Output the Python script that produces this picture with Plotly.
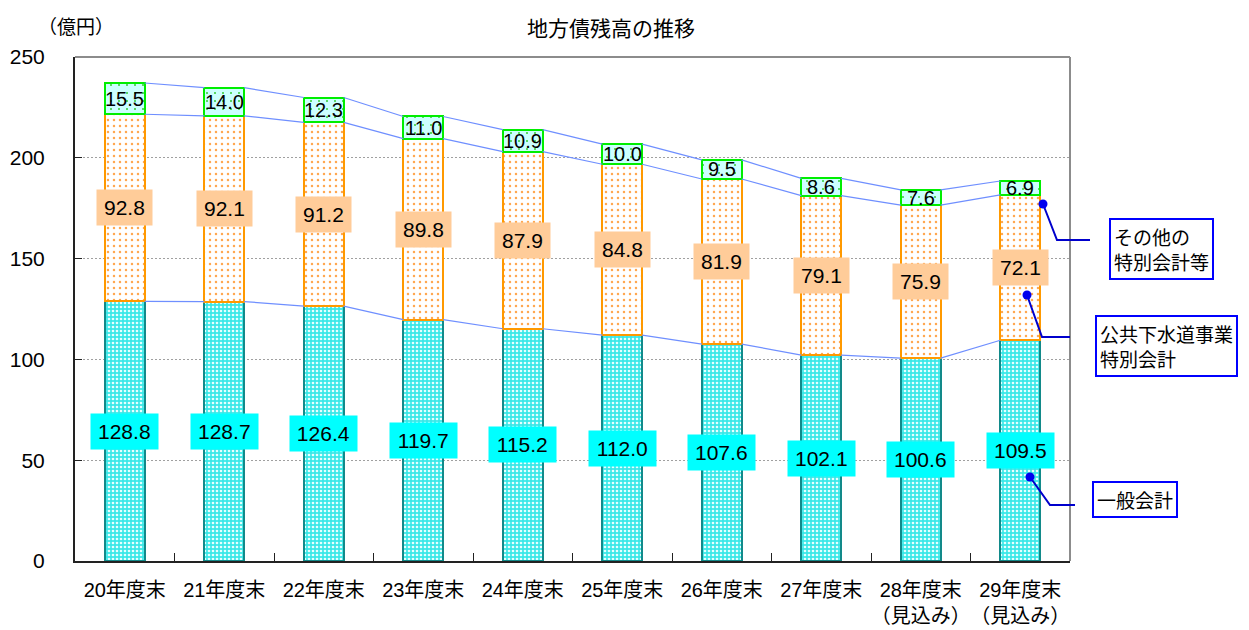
import plotly.graph_objects as go

categories = ["20年度末", "21年度末", "22年度末", "23年度末", "24年度末",
              "25年度末", "26年度末", "27年度末", "28年度末<br>（見込み）", "29年度末<br>（見込み）"]
general = [128.8, 128.7, 126.4, 119.7, 115.2, 112.0, 107.6, 102.1, 100.6, 109.5]
sewer = [92.8, 92.1, 91.2, 89.8, 87.9, 84.8, 81.9, 79.1, 75.9, 72.1]
other = [15.5, 14.0, 12.3, 11.0, 10.9, 10.0, 9.5, 8.6, 7.6, 6.9]
y_ticks = [0, 50, 100, 150, 200, 250]

FONT = "Liberation Sans, Noto Sans CJK JP, sans-serif"
JFONT = "Noto Sans CJK JP, Liberation Sans, sans-serif"

# page is offset by the 8px body margin: figure sized to fit the window
OFF = 8
W, H = 1249 - OFF, 630 - OFF
PL, PR, PT, PB = 75, 1070, 57, 561          # plot area in page pixels
ML, MT = PL - OFF, PT - OFF
MR, MB = 1249 - PR, 630 - PB
PW, PH = PR - PL, PB - PT


def px(x):
    return (x - PL) / PW


def py(y):
    return (PB - y) / PH


xs = list(range(len(categories)))
BW = 0.4

fig = go.Figure()
fig.add_trace(go.Bar(
    x=xs, y=general, width=BW, name="一般会計",
    marker=dict(color="#3EEAEA",
                line=dict(color="#128A8A", width=2),
                pattern=dict(shape=".", bgcolor="#3AE8E8", fgcolor="#E6FFFF",
                             size=4, solidity=0.35, fillmode="replace")),
))
fig.add_trace(go.Bar(
    x=xs, y=sewer, width=BW, name="公共下水道事業特別会計",
    marker=dict(color="#FFFFFF",
                line=dict(color="#FF9900", width=2),
                pattern=dict(shape=".", bgcolor="#FFFFFF", fgcolor="#FFA850",
                             size=6, solidity=0.13, fillmode="replace")),
))
fig.add_trace(go.Bar(
    x=xs, y=other, width=BW, name="その他の特別会計等",
    marker=dict(color="#CCFFFF",
                line=dict(color="#00EE00", width=2),
                pattern=dict(shape=".", bgcolor="#CCFFFF", fgcolor="#33CC33",
                             size=8, solidity=0.05, fillmode="replace")),
))

# connecting lines between stack tops
cum1 = general
cum2 = [g + s for g, s in zip(general, sewer)]
cum3 = [g + s + o for g, s, o in zip(general, sewer, other)]
for cum in (cum1, cum2, cum3):
    lx, ly = [], []
    for i in range(len(xs) - 1):
        lx += [xs[i] + BW / 2, xs[i + 1] - BW / 2, None]
        ly += [cum[i], cum[i + 1], None]
    fig.add_trace(go.Scatter(x=lx, y=ly, mode="lines",
                             line=dict(color="#6F8FFF", width=1.2),
                             hoverinfo="skip", showlegend=False))


def box_width(s):
    digits = sum(c.isdigit() for c in s)
    return digits * 11.7 + 5.8 + 4


annotations = []
for i in xs:
    t1 = f"{general[i]:.1f}"
    annotations.append(dict(x=xs[i], y=general[i] / 2, xref="x", yref="y",
                            text=t1, showarrow=False,
                            font=dict(family=FONT, size=21, color="black"),
                            bgcolor="#00FFFF", borderpad=5,
                            width=box_width(t1), height=25))
    t2 = f"{sewer[i]:.1f}"
    annotations.append(dict(x=xs[i], y=general[i] + sewer[i] / 2, xref="x", yref="y",
                            text=t2, showarrow=False,
                            font=dict(family=FONT, size=21, color="black"),
                            bgcolor="#FFCC99", borderpad=5,
                            width=box_width(t2), height=25))
    annotations.append(dict(x=xs[i], y=cum2[i] + other[i] / 2, xref="x", yref="y",
                            text=f"{other[i]:.1f}", showarrow=False,
                            font=dict(family=FONT, size=20, color="black")))

# title (cut at the top edge in the reference; kept fully visible here)
annotations.append(dict(x=px(611), y=py(27), xref="paper", yref="paper",
                        text="地方債残高の推移", showarrow=False,
                        font=dict(family=JFONT, size=21, color="black"),
                        xanchor="center", yanchor="middle"))
# unit label
annotations.append(dict(x=px(76), y=py(25), xref="paper", yref="paper",
                        text="（億円）", showarrow=False,
                        font=dict(family=JFONT, size=19, color="black"),
                        xanchor="center", yanchor="middle"))

# callout boxes
callouts = [
    ("その他の<br>特別会計等", 1161, 249, [(1043, 204), (1057, 240), (1090, 240)]),
    ("公共下水道事業<br>特別会計", 1166, 346, [(1027, 295), (1042, 337), (1070, 337)]),
    ("一般会計", 1135, 499, [(1030, 477), (1050, 505), (1075, 505)]),
]
shapes = [
    # top and right frame lines (gray)
    dict(type="line", xref="paper", yref="paper", x0=0, x1=1, y0=1, y1=1,
         line=dict(color="#8C8C8C", width=2), layer="above"),
    dict(type="line", xref="paper", yref="paper", x0=1, x1=1, y0=0, y1=1,
         line=dict(color="#8C8C8C", width=2), layer="above"),
]
for text, cx, cy, pts in callouts:
    annotations.append(dict(x=px(cx), y=py(cy), xref="paper", yref="paper",
                            text=text, showarrow=False, align="left",
                            font=dict(family=JFONT, size=19, color="black"),
                            bgcolor="white", bordercolor="#0000FF", borderwidth=2,
                            borderpad=3, xanchor="center", yanchor="middle"))
    path = "M " + " L ".join(f"{px(a)},{py(b)}" for a, b in pts)
    shapes.append(dict(type="path", path=path, xref="paper", yref="paper",
                       line=dict(color="#0000CC", width=2), layer="above"))
    shapes.append(dict(type="circle", xref="paper", yref="paper",
                       xsizemode="pixel", ysizemode="pixel",
                       xanchor=px(pts[0][0]), yanchor=py(pts[0][1]),
                       x0=-4.5, x1=4.5, y0=-4.5, y1=4.5,
                       fillcolor="#0000EE", line=dict(color="#0000EE", width=0),
                       layer="above"))

fig.update_layout(
    width=W, height=H,
    margin=dict(l=ML, r=MR, t=MT, b=MB, autoexpand=False),
    barmode="stack",
    showlegend=False,
    plot_bgcolor="white", paper_bgcolor="white",
    font=dict(family=FONT, size=20, color="black"),
    annotations=annotations,
    shapes=shapes,
    xaxis=dict(range=[-0.5, len(xs) - 0.5], tickmode="array", tickvals=xs,
               ticktext=categories, ticks="", showgrid=False, tickangle=0,
               showline=True, linecolor="#222", linewidth=2, mirror=False,
               ticklabelstandoff=10, automargin=False,
               tickfont=dict(family=FONT, size=20, color="black"),
               minor=dict(tickvals=[i + 0.5 for i in xs[:-1]], ticks="inside",
                          ticklen=8, tickcolor="#222", tickwidth=1, showgrid=False)),
    yaxis=dict(range=[0, 250], tickmode="array", tickvals=y_ticks,
               showgrid=True, gridcolor="#A0A0A0", griddash="2px,2px", gridwidth=1,
               showline=True, linecolor="#222", linewidth=2, mirror=False,
               ticks="inside", ticklen=7, tickcolor="#222",
               ticklabelstandoff=24, zeroline=False, automargin=False,
               tickfont=dict(family=FONT, size=21, color="black")),
)

fig.write_html("out.html")
